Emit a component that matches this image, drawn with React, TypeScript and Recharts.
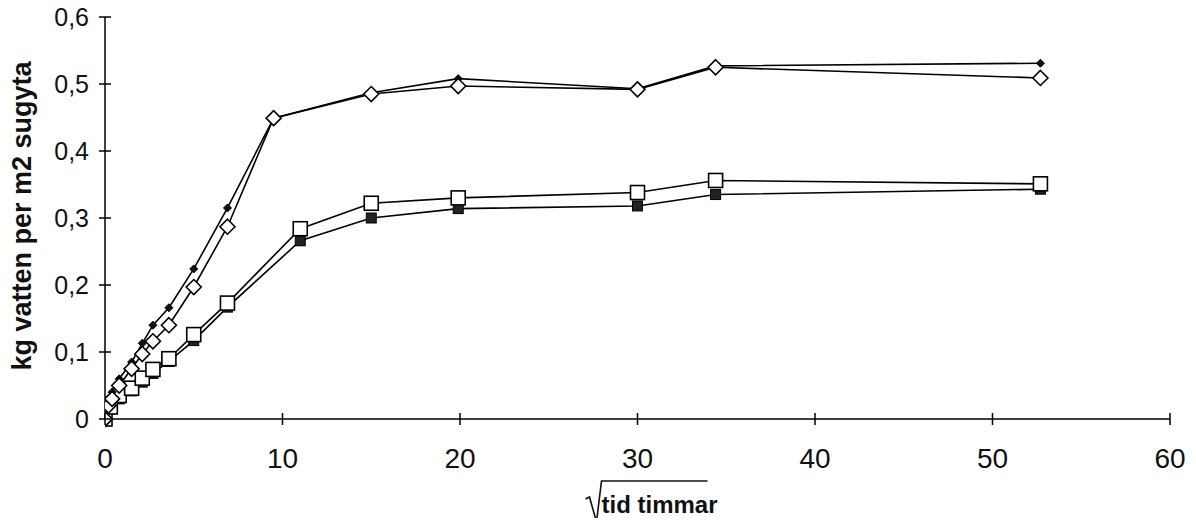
import React from "react";
import { LineChart, Line, XAxis, YAxis } from "recharts";

// sqrt(time) values and measured water uptake
const diamondX = [0, 0.2, 0.4, 0.8, 1.5, 2.1, 2.7, 3.6, 5.0, 6.9, 9.5, 15.0, 19.9, 30.0, 34.4, 52.7];
const diamondFilled = [0, 0.025, 0.04, 0.06, 0.085, 0.113, 0.14, 0.166, 0.224, 0.315, 0.449, 0.487, 0.508, 0.493, 0.527, 0.531];
const diamondOpen = [0, 0.02, 0.03, 0.05, 0.075, 0.097, 0.116, 0.14, 0.197, 0.287, 0.449, 0.485, 0.497, 0.492, 0.525, 0.509];

const squareX = [0, 0.3, 0.8, 1.5, 2.1, 2.7, 3.6, 5.0, 6.9, 11.0, 15.0, 19.9, 30.0, 34.4, 52.7];
const squareOpen = [0, 0.018, 0.035, 0.046, 0.061, 0.074, 0.09, 0.126, 0.173, 0.284, 0.322, 0.33, 0.338, 0.356, 0.351];
const squareFilled = [0, 0.015, 0.03, 0.042, 0.055, 0.068, 0.086, 0.117, 0.167, 0.266, 0.3, 0.314, 0.318, 0.335, 0.343];

const xTicks = [0, 10, 20, 30, 40, 50, 60];
const yTicks = [0, 0.1, 0.2, 0.3, 0.4, 0.5, 0.6];
const yTickLabels = ["0", "0,1", "0,2", "0,3", "0,4", "0,5", "0,6"];

const yLabel = "kg vatten per m2 sugyta";
const xLabel = "tid timmar";

const zip = (xs: number[], ys: number[]) => xs.map((x, i) => ({ x, y: ys[i] }));
const dFilled = zip(diamondX, diamondFilled);
const dOpen = zip(diamondX, diamondOpen);
const sOpen = zip(squareX, squareOpen);
const sFilled = zip(squareX, squareFilled);

const FONT = "'Liberation Sans', Arial, sans-serif";

const OpenDiamond = (p: any) => {
  const { cx, cy } = p;
  if (cx == null || cy == null) return null;
  const r = 7.5;
  return (
    <path key={p.key ?? `od${p.index}`} d={`M${cx},${cy - r}L${cx + r},${cy}L${cx},${cy + r}L${cx - r},${cy}Z`} fill="#fff" stroke="#000" strokeWidth={1.6} />
  );
};
const FilledDiamond = (p: any) => {
  const { cx, cy } = p;
  if (cx == null || cy == null) return null;
  const r = 4;
  return (
    <path key={p.key ?? `fd${p.index}`} d={`M${cx},${cy - r}L${cx + r},${cy}L${cx},${cy + r}L${cx - r},${cy}Z`} fill="#111" stroke="#000" strokeWidth={1} />
  );
};
const OpenSquare = (p: any) => {
  const { cx, cy } = p;
  if (cx == null || cy == null) return null;
  const r = 7;
  return <rect key={p.key ?? `os${p.index}`} x={cx - r} y={cy - r} width={2 * r} height={2 * r} fill="#fff" stroke="#000" strokeWidth={1.6} />;
};
const FilledSquare = (p: any) => {
  const { cx, cy } = p;
  if (cx == null || cy == null) return null;
  const r = 5;
  return <rect key={p.key ?? `fs${p.index}`} x={cx - r} y={cy - r} width={2 * r} height={2 * r} fill="#222" stroke="#000" strokeWidth={1} />;
};

const YTick = (p: any) => {
  const { x, y, payload, index } = p;
  return (
    <g>
      <line x1={x - 6} x2={x + 6} y1={y} y2={y} stroke="#000" strokeWidth={1.5} />
      <text x={x - 16} y={y} dy="0.36em" textAnchor="end" fontFamily={FONT} fontSize={25} fill="#111">
        {yTickLabels[yTicks.indexOf(payload.value)] ?? yTickLabels[index]}
      </text>
    </g>
  );
};

const XTick = (p: any) => {
  const { x, y, payload } = p;
  return (
    <g>
      <line x1={x} x2={x} y1={y - 6} y2={y + 6} stroke="#000" strokeWidth={1.5} />
      <text x={x} y={y + 49} textAnchor="middle" fontFamily={FONT} fontSize={28} fill="#111">
        {String(payload.value)}
      </text>
    </g>
  );
};

const YLabel = (p: any) => {
  const vb = p.viewBox || {};
  const cx = 14;
  const cy = vb.y + vb.height / 2 - 2;
  return (
    <text x={cx} y={cy} transform={`rotate(-90 ${cx} ${cy})`} textAnchor="middle" dominantBaseline="central" fontFamily={FONT} fontWeight="bold" fontSize={27} fill="#111">
      {yLabel}
    </text>
  );
};

const XLabel = (p: any) => {
  const vb = p.viewBox || {};
  const cx = vb.x + vb.width / 2 + 22;
  const ty = 513;
  const sx = cx - 62;
  return (
    <g>
      <path d={`M${sx - 12},${ty - 14} L${sx - 8},${ty - 16} L${sx - 1},${ty + 9} L${sx + 4},${ty - 32} L${sx + 110},${ty - 32}`} fill="none" stroke="#111" strokeWidth={1.6} />
      <text x={cx} y={ty} textAnchor="middle" fontFamily={FONT} fontWeight="bold" fontSize={24} fill="#111">
        {xLabel}
      </text>
    </g>
  );
};

export default function App() {
  return (
    <div style={{ width: 1180, height: 518, background: "#fff", marginTop: -8 }}>
      <LineChart width={1180} height={518} margin={{ top: 17, right: 18, left: 0, bottom: 0 }}>
        <XAxis
          type="number"
          dataKey="x"
          domain={[0, 60]}
          ticks={xTicks}
          height={99}
          tickSize={0}
          tickMargin={0}
          tick={<XTick />}
          axisLine={{ stroke: "#000", strokeWidth: 1.5 }}
          tickLine={false}
          allowDataOverflow
          label={<XLabel />}
        />
        <YAxis
          type="number"
          dataKey="y"
          domain={[0, 0.6]}
          ticks={yTicks}
          width={97}
          tickSize={0}
          tickMargin={0}
          tick={<YTick />}
          axisLine={{ stroke: "#000", strokeWidth: 1.5 }}
          tickLine={false}
          label={<YLabel />}
        />
        <Line data={sFilled} dataKey="y" stroke="#000" strokeWidth={1.6} dot={<FilledSquare />} isAnimationActive={false} />
        <Line data={sOpen} dataKey="y" stroke="#000" strokeWidth={1.6} dot={<OpenSquare />} isAnimationActive={false} />
        <Line data={dFilled} dataKey="y" stroke="#000" strokeWidth={1.6} dot={<FilledDiamond />} isAnimationActive={false} />
        <Line data={dOpen} dataKey="y" stroke="#000" strokeWidth={1.6} dot={<OpenDiamond />} isAnimationActive={false} />
      </LineChart>
    </div>
  );
}
